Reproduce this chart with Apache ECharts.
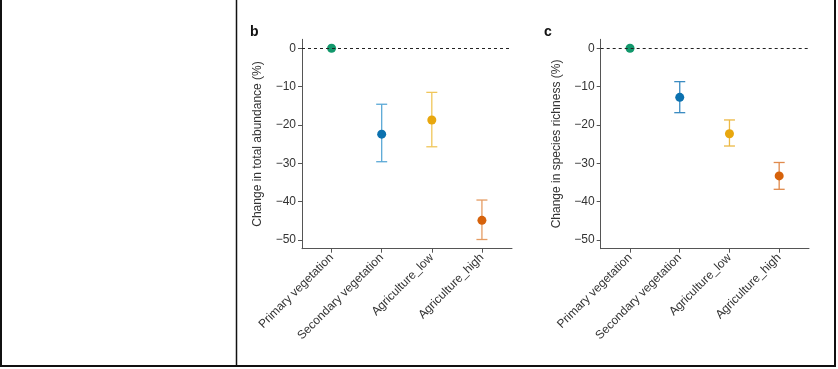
<!DOCTYPE html>
<html>
<head>
<meta charset="utf-8">
<script src="https://cdn.jsdelivr.net/npm/echarts@6/dist/echarts.min.js"></script>
<style>
html,body{margin:0;padding:0;background:#fff;}
#chart{width:838px;height:369px;}
</style>
</head>
<body>
<div id="chart"></div>
<script>
const categories = ['Primary vegetation', 'Secondary vegetation', 'Agriculture_low', 'Agriculture_high'];
const yTicks = [0, -10, -20, -30, -40, -50];

const abundanceMean = [0, -22.4, -18.7, -44.9];
const abundanceLow  = [0, -29.6, -25.7, -49.9];
const abundanceHigh = [0, -14.6, -11.5, -39.6];

const richnessMean = [0, -12.8, -22.3, -33.3];
const richnessLow  = [0, -16.8, -25.5, -36.8];
const richnessHigh = [0, -8.7, -18.7, -29.8];

const pointColors = ['#12986c', '#0b71af', '#e8a70e', '#d6620b'];
const barColorsB = ['#12986c', '#5aa8d6', '#f0c65a', '#e59c63'];
const barColorsC = ['#12986c', '#3b8cc2', '#ecb945', '#e08a4c'];

const FONT = '"Liberation Sans", Arial, Helvetica, sans-serif';
const TXT = '#333';
const AX = '#555';

function fmtNum(v) { return v < 0 ? '\u2212' + Math.abs(v) : String(v); }

function xAxisCfg(gi) {
  return {
    type: 'value', gridIndex: gi, min: -0.59, max: 3.6,
    splitLine: { show: false },
    axisLine: { show: true, onZero: false, lineStyle: { color: AX, width: 1 } },
    axisTick: { show: true, customValues: [0, 1, 2, 3], length: 4, lineStyle: { color: AX } },
    axisLabel: {
      customValues: [0, 1, 2, 3], rotate: 45, margin: 7,
      fontFamily: FONT, fontSize: 12, color: TXT,
      formatter: v => categories[Math.round(v)]
    }
  };
}
function yAxisCfg(gi, name) {
  return {
    type: 'value', gridIndex: gi, min: -52.3, max: 2.35,
    name: name, nameLocation: 'middle', nameGap: 38, nameRotate: 90,
    nameTextStyle: { fontFamily: FONT, fontSize: 12, color: TXT },
    splitLine: { show: false },
    axisLine: { show: true, onZero: false, lineStyle: { color: AX, width: 1 } },
    axisTick: { show: true, customValues: yTicks, length: 4, lineStyle: { color: AX } },
    axisLabel: {
      customValues: yTicks, margin: 6,
      fontFamily: FONT, fontSize: 12, color: TXT,
      formatter: v => fmtNum(v)
    }
  };
}

function errData(low, high) {
  return categories.map((c, i) => [i, low[i], high[i]]);
}
function errSeries(gi, low, high, colors) {
  return {
    type: 'custom', xAxisIndex: gi, yAxisIndex: gi, z: 2,
    data: errData(low, high),
    renderItem: function (params, api) {
      const i = api.value(0);
      if (api.value(1) === api.value(2)) return null;
      const lo = api.coord([i, api.value(1)]);
      const hi = api.coord([i, api.value(2)]);
      const hw = 5.5;
      const style = { stroke: colors[i], lineWidth: 1.3, fill: null };
      return {
        type: 'group',
        children: [
          { type: 'line', shape: { x1: lo[0], y1: lo[1], x2: hi[0], y2: hi[1] }, style: style },
          { type: 'line', shape: { x1: lo[0] - hw, y1: lo[1], x2: lo[0] + hw, y2: lo[1] }, style: style },
          { type: 'line', shape: { x1: hi[0] - hw, y1: hi[1], x2: hi[0] + hw, y2: hi[1] }, style: style }
        ]
      };
    }
  };
}
function pointSeries(gi, mean) {
  return {
    type: 'scatter', xAxisIndex: gi, yAxisIndex: gi, z: 3,
    symbolSize: 9,
    data: mean.map((v, i) => ({ value: [i, v], itemStyle: { color: pointColors[i], opacity: 1 } })),
    markLine: {
      silent: true, symbol: 'none', label: { show: false },
      lineStyle: { color: '#222', type: [3, 3], width: 1 },
      data: [{ yAxis: 0 }]
    }
  };
}

const chart = echarts.init(document.getElementById('chart'), null, { renderer: 'canvas' });
chart.setOption({
  animation: false,
  backgroundColor: '#fff',
  grid: [
    { left: 302, right: 326, top: 39.3, bottom: 120.3 },
    { left: 600.7, right: 29, top: 39.3, bottom: 120.3 }
  ],
  xAxis: [xAxisCfg(0), xAxisCfg(1)],
  yAxis: [yAxisCfg(0, 'Change in total abundance (%)'), yAxisCfg(1, 'Change in species richness (%)')],
  series: [
    errSeries(0, abundanceLow, abundanceHigh, barColorsB),
    pointSeries(0, abundanceMean),
    errSeries(1, richnessLow, richnessHigh, barColorsC),
    pointSeries(1, richnessMean)
  ],
  graphic: [
    { type: 'text', left: 250, top: 25, style: { text: 'b', font: 'bold 14px ' + FONT, fill: '#111' } },
    { type: 'text', left: 544, top: 25, style: { text: 'c', font: 'bold 14px ' + FONT, fill: '#111' } },
    { type: 'line', shape: { x1: 1, y1: 0, x2: 1, y2: 367 }, style: { stroke: '#111', lineWidth: 2 } },
    { type: 'line', shape: { x1: 236.5, y1: 0, x2: 236.5, y2: 367 }, style: { stroke: '#111', lineWidth: 1.5 } },
    { type: 'line', shape: { x1: 835, y1: 0, x2: 835, y2: 367 }, style: { stroke: '#111', lineWidth: 2 } },
    { type: 'line', shape: { x1: 0, y1: 366, x2: 836, y2: 366 }, style: { stroke: '#111', lineWidth: 2 } }
  ]
});
</script>
</body>
</html>
